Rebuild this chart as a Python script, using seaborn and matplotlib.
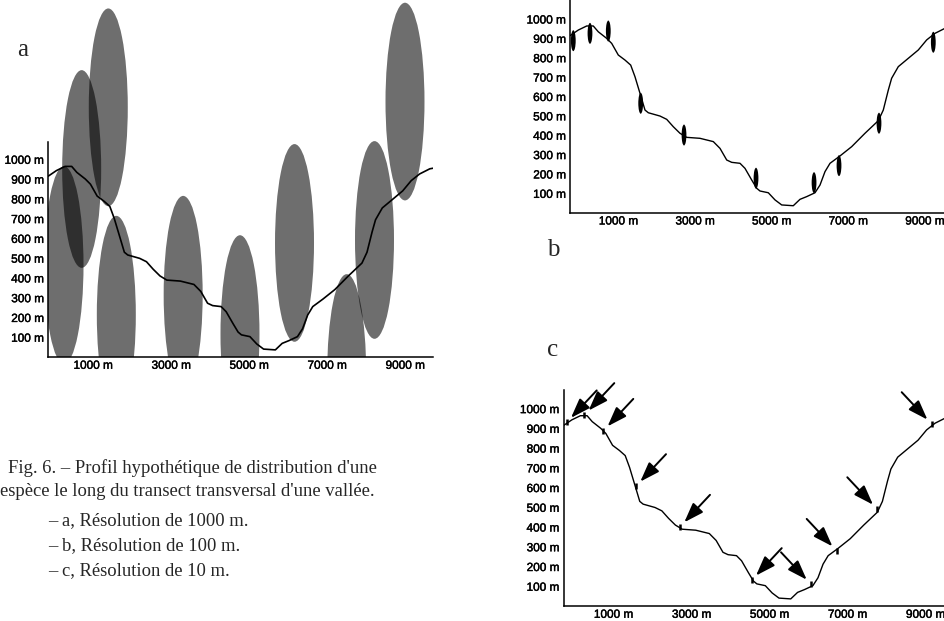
import matplotlib
matplotlib.use("Agg")
import matplotlib.pyplot as plt
import matplotlib.transforms as mtransforms
import matplotlib.patheffects as pe
from matplotlib.patches import Ellipse
import pandas as pd
import seaborn as sns

# valley transect profile (distance along transect, altitude)
distance = [0, 209, 428, 600, 731, 950, 1081, 1253, 1428, 1577, 1689, 1820, 1950,
            2037, 2342, 2517, 2689, 2864, 3039, 3386, 3734, 3909, 4084, 4214, 4431,
            4561, 4736, 4867, 4953, 5170, 5345, 5520, 5822, 5997, 6172, 6389, 6520,
            6650, 6781, 7042, 7347, 7694, 8042, 8172, 8303, 8390, 8564, 8825, 9086,
            9305, 9522, 9783, 9870]
altitude = [915, 943, 964, 964, 934, 900, 874, 814, 788, 762, 702, 616, 530,
            516, 499, 482, 444, 410, 389, 384, 367, 332, 272, 260, 255,
            229, 169, 126, 112, 103, 66, 40, 36, 69, 83, 103, 143,
            212, 255, 293, 341, 410, 475, 530, 633, 694, 754, 797, 840,
            892, 926, 952, 955]

# a - 1000 m cells (centres)
cells_a_x = [403, 856, 1538, 1744, 3458, 4915, 6313, 7651, 8364, 9146]
cells_a_y = [465, 951, 1263, 214, 315, 116, 577, -81, 592, 1292]
cell_a_size = 1000

# b - 100 m cells (centres)
cells_b_x = [78, 514, 992, 1838, 2969, 4849, 6364, 7016, 8060, 9478]
cells_b_y = [888, 926, 938, 565, 401, 178, 155, 243, 462, 880]

# c - 10 m sites
sites_c_x = [77, 528, 1015, 1854, 2982, 4821, 6341, 7000, 8041, 9436]
sites_c_y = [930, 967, 887, 607, 401, 131, 110, 279, 490, 921]

y_ticks = [100, 200, 300, 400, 500, 600, 700, 800, 900, 1000]
y_labels = [f"{v} m" for v in y_ticks]
x_ticks = [1000, 2000, 3000, 4000, 5000, 6000, 7000, 8000, 9000]
x_labels = [f"{v} m" if (v // 1000) % 2 else "" for v in x_ticks]

caption_head = ["Fig. 6. \u2013 Profil hypoth\u00e9tique de distribution d'une",
                "esp\u00e8ce le long du transect transversal d'une vall\u00e9e."]
caption_items = ["\u2013 a, R\u00e9solution de 1000 m.",
                 "\u2013 b, R\u00e9solution de 100 m.",
                 "\u2013 c, R\u00e9solution de 10 m."]

sns.set_style("white")
plt.rcParams["font.family"] = ["Liberation Sans", "DejaVu Sans"]

W, H = 945, 621
fig = plt.figure(figsize=(W / 100, H / 100), dpi=100)
profile = pd.DataFrame({"distance": distance, "altitude": altitude})
heavy = [pe.withStroke(linewidth=0.3, foreground="black")]


def px_axes(x0, y_axis, x1, y_top):
    # axes placed from pixel positions of the scan (y from top)
    return fig.add_axes([x0 / W, 1 - y_axis / H, (x1 - x0) / W, (y_axis - y_top) / H])


def style_axis(ax, xmax, ymax, shift_px, spine_top=None):
    ax.set_xlim(0, xmax)
    ax.set_ylim(0, ymax)
    sns.despine(ax=ax)
    for side in ("left", "bottom"):
        ax.spines[side].set_linewidth(1.1)
        ax.spines[side].set_color("black")
    if spine_top:
        ax.spines["left"].set_bounds(0, spine_top)
    ax.set_yticks(y_ticks, y_labels)
    ax.set_xticks(x_ticks, x_labels)
    ax.tick_params(axis="y", direction="out", length=2.5, width=0.9, pad=0.5,
                   labelsize=8.5, colors="black")
    ax.tick_params(axis="x", direction="in", length=3.5, width=0.9, pad=2,
                   labelsize=8.5, colors="black")
    ax.set_xlabel("")
    ax.set_ylabel("")
    ax.patch.set_alpha(0)
    shift = mtransforms.ScaledTranslation(shift_px / 100, 0, fig.dpi_scale_trans)
    for lab in ax.get_xticklabels():
        lab.set_transform(lab.get_transform() + shift)
        lab.set_path_effects(heavy)
    for lab in ax.get_yticklabels():
        lab.set_path_effects(heavy)


# ---- panel a
ax_a = px_axes(48.3, 357, 433, 0)
for cx, cy in zip(cells_a_x, cells_a_y):
    ax_a.add_patch(Ellipse((cx, cy), cell_a_size, cell_a_size, facecolor="black",
                           alpha=0.57, edgecolor="none", zorder=1))
sns.lineplot(data=profile, x="distance", y="altitude", ax=ax_a, color="black",
             linewidth=1.2, estimator=None, zorder=3)
style_axis(ax_a, 9864, 357 / 0.1977, 6, spine_top=1087)

# ---- panel b
ax_b = px_axes(570.3, 212.7, 945, 0)
sns.lineplot(data=profile, x="distance", y="altitude", ax=ax_b, color="black",
             linewidth=1.0, estimator=None, zorder=2)
for cx, cy in zip(cells_b_x, cells_b_y):
    ax_b.add_patch(Ellipse((cx, cy), 125, 108, facecolor="black", edgecolor="none", zorder=3))
style_axis(ax_b, 374.7 / 0.0383, 212.7 / 0.1937, 10)

# ---- panel c
ax_c = px_axes(563.7, 606, 945, 390)
sns.lineplot(data=profile, x="distance", y="altitude", ax=ax_c, color="black",
             linewidth=1.0, estimator=None, zorder=2)
sns.scatterplot(x=sites_c_x, y=sites_c_y, ax=ax_c, marker="|", s=22, linewidth=1.8,
                color="black", zorder=3)
for sx, sy in zip(sites_c_x, sites_c_y):
    side = 1 if sx < 5600 else -1
    ax_c.annotate("", xy=(sx, sy), xytext=(side * 30, 32), textcoords="offset pixels",
                  arrowprops=dict(arrowstyle="-|>,head_length=1.2,head_width=0.42",
                                  color="black", lw=1.4, shrinkA=0, shrinkB=4.5,
                                  mutation_scale=10))
style_axis(ax_c, 381.3 / 0.039, 216 / 0.1974, 11)

# ---- panel letters and caption
serif = ["Liberation Serif", "DejaVu Serif"]
for letter, (lx, ly) in zip("abc", [(23, 50), (553, 250), (553, 350)]):
    fig.text(lx / W, 1 - ly / H, letter, family=serif, fontsize=18, ha="center", va="center")

for line, (tx, ty) in zip(caption_head, [(8, 468), (0, 491)]):
    fig.text(tx / W, 1 - ty / H, line, family=serif, fontsize=13.4, ha="left", va="center")
for i, line in enumerate(caption_items):
    fig.text(48 / W, 1 - (521 + 25 * i) / H, line, family=serif, fontsize=13.4,
             ha="left", va="center")

fig.savefig("out.png", dpi=100)
